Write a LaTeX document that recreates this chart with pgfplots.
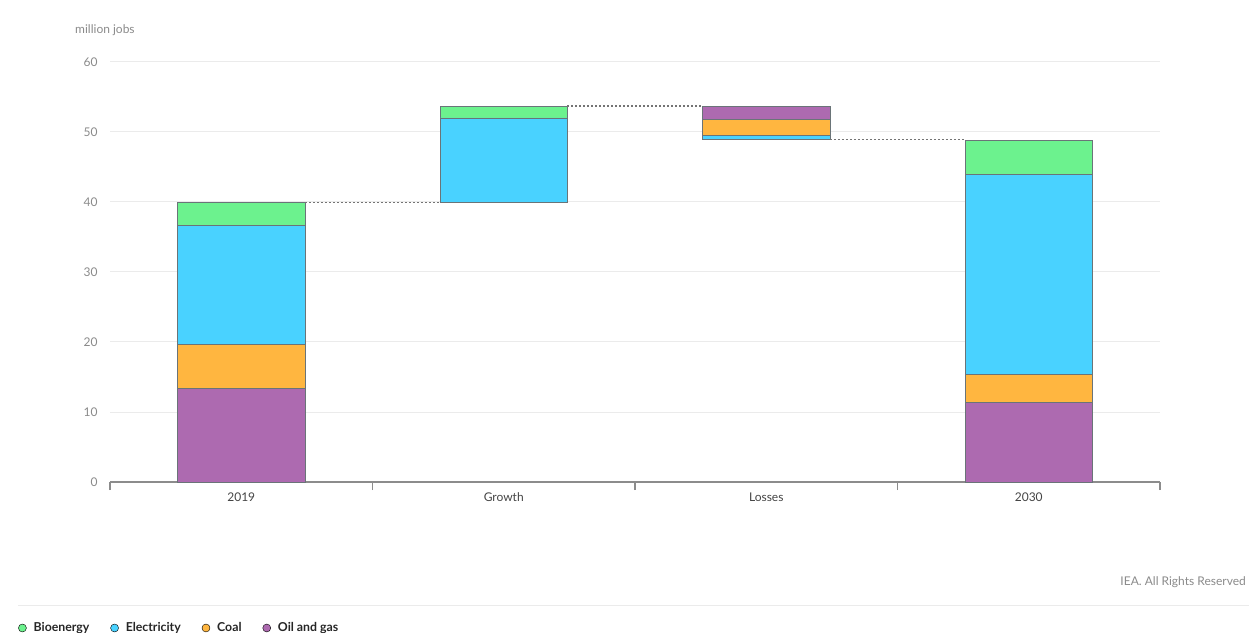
\documentclass[border=0pt]{standalone}
\usepackage{fontspec}
\setmainfont{Lato}
\usepackage{pgfplots}
\pgfplotsset{compat=1.18}
\definecolor{cBio}{HTML}{6CF28E}
\definecolor{cEle}{HTML}{49D2FF}
\definecolor{cCoal}{HTML}{FFB640}
\definecolor{cOil}{HTML}{AD6AB0}
\definecolor{edgec}{HTML}{6A7478}
\definecolor{gridc}{HTML}{EBEBEB}
\definecolor{axisc}{HTML}{8C8C8C}
\definecolor{dotc}{HTML}{747474}
\definecolor{labc}{HTML}{8A8A8A}
\definecolor{xlabc}{HTML}{444444}
\begin{document}
\begin{tikzpicture}[x=1pt,y=1pt]
\useasboundingbox (0,0) rectangle (1249,632);
\begin{scope}
\clip (0,0) rectangle (1249,632);
\begin{axis}[
  at={(110pt,150pt)}, anchor=south west,
  scale only axis, width=1050pt, height=420pt,
  ybar stacked, bar width=0.485,
  xmin=-0.5, xmax=3.5, ymin=0, ymax=60,
  axis line style={draw=none},
  /pgf/number format/assume math mode=true,
  xtick={-0.5,0.5,1.5,2.5,3.5}, x tick label as interval,
  xticklabels={2019,Growth,Losses,2030},
  xtick pos=left, tick align=outside,
  major tick length=8pt,
  x tick style={draw=axisc, line width=1.2pt},
  xticklabel style={font=\fontsize{12}{14}\selectfont, text=xlabc, yshift=0.5pt},
  ytick={0,10,...,60},
  y tick style={draw=none},
  yticklabel style={font=\fontsize{12}{14}\selectfont, text=labc, xshift=-1pt},
  ymajorgrids, major grid style={draw=gridc, line width=1pt},
  extra y ticks={0}, extra y tick labels={},
  extra y tick style={grid=major, major grid style={draw=axisc, line width=1.3pt}},
  every axis plot/.append style={draw=edgec, line width=0.8pt},
]
\addplot[fill=none, draw=none, forget plot] coordinates {(0,0) (1,39.9) (2,48.9) (3,0)};
\addplot[fill=cOil, forget plot] coordinates {(0,13.4) (1,0) (2,0) (3,11.4)};
\addplot[fill=cCoal, forget plot] coordinates {(0,6.3) (1,0) (2,0) (3,4.0)};
\addplot[fill=cEle, forget plot] coordinates {(0,17.0) (1,12.1) (2,0.6) (3,28.5)};
\addplot[fill=cCoal, forget plot] coordinates {(0,0) (1,0) (2,2.3) (3,0)};
\addplot[fill=cOil, forget plot] coordinates {(0,0) (1,0) (2,1.9) (3,0)};
\addplot[fill=cBio, forget plot] coordinates {(0,3.2) (1,1.7) (2,0) (3,4.9)};
\end{axis}
\begin{axis}[
  at={(110pt,150pt)}, anchor=south west,
  scale only axis, width=1050pt, height=420pt,
  xmin=-0.5, xmax=3.5, ymin=0, ymax=60,
  hide axis, clip=false,
  legend columns=-1,
  legend image code/.code={\fill[#1] (0pt,0pt) circle (4pt); \path (9pt,0pt);},
  legend style={at={(-0.0876,-0.3476)}, anchor=west, draw=none, fill=none,
    inner sep=0pt,
    font=\fontsize{12.3}{14}\selectfont\bfseries,
    text=black!85,
    /tikz/every even column/.append style={column sep=19pt}},
]
\addplot[dotc, line width=1.3pt, dash pattern=on 2pt off 2pt, forget plot] coordinates {(0.2425,39.9) (0.7575,39.9)};
\addplot[dotc, line width=1.3pt, dash pattern=on 2pt off 2pt, forget plot] coordinates {(1.2425,53.7) (1.7575,53.7)};
\addplot[dotc, line width=1.3pt, dash pattern=on 2pt off 2pt, forget plot] coordinates {(2.2425,48.9) (2.7575,48.9)};
\addlegendimage{fill=cBio}
\addlegendentry{Bioenergy}
\addlegendimage{fill=cEle}
\addlegendentry{Electricity}
\addlegendimage{fill=cCoal}
\addlegendentry{Coal}
\addlegendimage{fill=cOil}
\addlegendentry{Oil and gas}
\end{axis}
\node[anchor=west, text=labc, font=\fontsize{12}{14}\selectfont, inner sep=0pt] at (75,602) {million jobs};
\draw[gridc, line width=1pt] (18,27) -- (1249,27);
\node[anchor=east, text=labc, font=\fontsize{12}{14}\selectfont, inner sep=0pt] at (1246,50) {IEA. All Rights Reserved};
\end{scope}
\end{tikzpicture}
\end{document}
